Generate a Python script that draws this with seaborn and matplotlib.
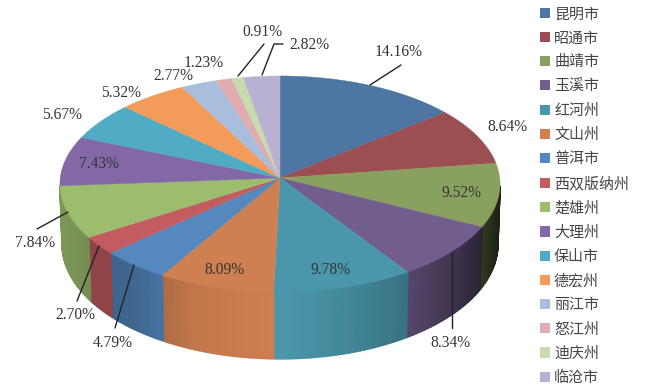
import numpy as np
import matplotlib.pyplot as plt
import seaborn as sns
from matplotlib.patches import Patch

# 各州市占比
cities = ['昆明市', '昭通市', '曲靖市', '玉溪市', '红河州', '文山州', '普洱市', '西双版纳州',
          '楚雄州', '大理州', '保山市', '德宏州', '丽江市', '怒江州', '迪庆州', '临沧市']
shares = [14.16, 8.64, 9.52, 8.34, 9.78, 8.09, 4.79, 2.70,
          7.84, 7.43, 5.67, 5.32, 2.77, 1.23, 0.91, 2.82]
colors = ['#4E76A2', '#9C4F52', '#8AA05E', '#725E8E', '#4A97AC', '#CF8050', '#5488BF', '#C25C60',
          '#9DBD6E', '#8268A5', '#50ACC4', '#F59B5A', '#A8BEDC', '#DFACB0', '#C8DBAE', '#B9B1D2']

# 标签位置 (像素)
label_pos = [(399, 52), (507, 127), (462, 193), (450, 343), (331, 270), (224, 270), (113, 343), (75, 315),
             (35, 243), (99, 164), (62, 115), (121, 93), (173, 76), (204, 63), (262, 32), (309, 45)]
leaders = [[(370, 85), (401, 65)], [(452, 252), (452, 328)], [(134, 265), (115, 328)],
           [(99, 246), (77, 301)], [(68, 212), (37, 229)], [(238, 76), (264, 44)],
           [(262, 75), (274, 44), (283, 44)]]

sns.set_theme(style='white')
plt.rcParams['font.family'] = ['Liberation Serif', 'Noto Sans CJK SC', 'DejaVu Sans']
palette = sns.color_palette(colors)

fig, ax = plt.subplots(figsize=(6.47, 3.91), dpi=100)
ax.set_position([0, 0, 1, 1])
ax.set_xlim(0, 647)
ax.set_ylim(391, 0)
ax.axis('off')

CX, CY = 280, 178
PERSP = 0.0556


# 透视投影：圆盘上的点 -> 像素
def project(t):
    x, y = np.sin(t), np.cos(t)
    w = 1 + PERSP * y
    return CX + 219.7 * x / w, CY - 107.7 * y / w, x / w, y


edges = 2 * np.pi * np.cumsum([0] + shares) / sum(shares)

# 侧面，按明暗分成小条
for i, c in enumerate(palette):
    steps = max(int((edges[i + 1] - edges[i]) / np.radians(1.0)), 1)
    ts = np.linspace(edges[i], edges[i + 1], steps + 1)
    for t0, t1 in zip(ts[:-1], ts[1:]):
        seg = np.linspace(t0, t1, 3)
        px, py, rel, yy = project(seg)
        if yy.mean() > -0.072:
            continue
        shade = np.interp(rel.mean(), [-1, -0.85, -0.7, -0.4, 0, 0.3, 0.58, 0.75, 0.9, 1],
                          [0.8, 0.74, 0.74, 0.93, 1, 0.9, 0.75, 0.6, 0.4, 0.2])
        col = tuple(np.array(c) * shade)
        bx = CX + (px - CX) * 0.99
        by = py + 60 / (1 + 0.1 * yy)
        ax.fill(np.r_[px, bx[::-1]], np.r_[py, by[::-1]], color=col, lw=1.2, zorder=1)

# 顶面
for i, c in enumerate(palette):
    px, py, _, _ = project(np.linspace(edges[i], edges[i + 1], 60))
    ax.fill(np.r_[CX, px], np.r_[CY, py], color=c, lw=0.3, zorder=2)

# 引线和标签
for seg in leaders:
    ax.plot(*zip(*seg), color='#222222', lw=1.0, zorder=3)
for s, (x, y) in zip(shares, label_pos):
    ax.text(x, y, f'{s:.2f}%', ha='center', va='center', fontsize=11.2, color='#333333', zorder=4)

handles = [Patch(facecolor=c, edgecolor='none') for c in palette]
ax.legend(handles, cities, loc='upper left', bbox_to_anchor=(539.5 / 647, 1 - 8 / 391), frameon=False,
          fontsize=10.8, labelcolor='#444444', handlelength=0.67, handleheight=0.67, handletextpad=0.3,
          labelspacing=0.675, borderaxespad=0, borderpad=0)

fig.savefig('out.png', dpi=100)
